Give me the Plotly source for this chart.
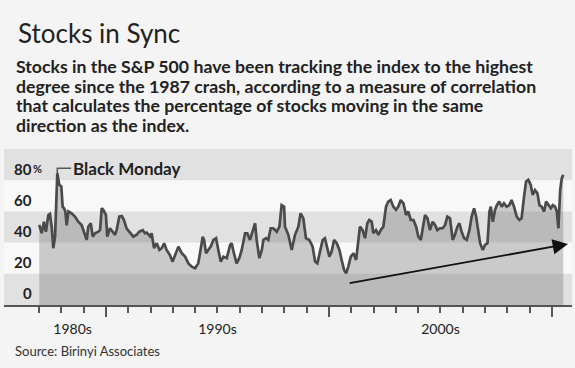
import plotly.graph_objects as go

# ---------------- data ----------------
years = [1987.01, 1987.12, 1987.22, 1987.31, 1987.42, 1987.49, 1987.57, 1987.64, 1987.72, 1987.76,
         1987.82, 1987.91, 1988.00, 1988.06, 1988.12, 1988.18, 1988.24, 1988.32, 1988.46, 1988.61,
         1988.76, 1988.91, 1989.06, 1989.14, 1989.21, 1989.32, 1989.41, 1989.51, 1989.66, 1989.74,
         1989.81, 1989.88, 1990.00, 1990.06, 1990.18, 1990.30, 1990.41, 1990.48, 1990.60, 1990.71,
         1990.81, 1990.93, 1991.08, 1991.23, 1991.38, 1991.50, 1991.65, 1991.75, 1991.83, 1991.98,
         1992.05, 1992.16, 1992.28, 1992.40, 1992.50, 1992.61, 1992.72, 1992.87, 1992.99, 1993.10,
         1993.25, 1993.40, 1993.55, 1993.70, 1993.85, 1994.00, 1994.14, 1994.22, 1994.34, 1994.40,
         1994.49, 1994.59, 1994.70, 1994.82, 1994.94, 1995.04, 1995.15, 1995.27, 1995.42, 1995.57,
         1995.64, 1995.74, 1995.86, 1995.98, 1996.09, 1996.24, 1996.34, 1996.46, 1996.58, 1996.69,
         1996.76, 1996.88, 1996.99, 1997.06, 1997.18, 1997.28, 1997.39, 1997.51, 1997.66, 1997.78,
         1997.88, 1997.99,
         1998.03, 1998.18, 1998.33, 1998.48, 1998.63, 1998.73, 1998.85, 1998.97, 1999.12, 1999.27,
         1999.38, 1999.48, 1999.60, 1999.72, 1999.82, 1999.90, 2000.02, 2000.12, 2000.23, 2000.35,
         2000.47, 2000.57, 2000.68, 2000.77, 2000.87, 2000.98, 2001.10, 2001.22, 2001.32, 2001.39,
         2001.51, 2001.62, 2001.72, 2001.81, 2001.92, 2001.99, 2002.11, 2002.22, 2002.32, 2002.44,
         2002.56, 2002.66, 2002.77, 2002.89, 2003.01, 2003.11, 2003.22, 2003.34, 2003.46, 2003.56,
         2003.67, 2003.79, 2003.91, 2004.01, 2004.12, 2004.21, 2004.31, 2004.42, 2004.53, 2004.65,
         2004.76, 2004.86, 2004.98, 2005.10, 2005.21, 2005.31, 2005.43, 2005.55, 2005.65, 2005.76,
         2005.85, 2005.95, 2006.06, 2006.18, 2006.30, 2006.40, 2006.51, 2006.60, 2006.70, 2006.78,
         2006.90, 2007.00, 2007.11, 2007.20, 2007.26, 2007.35, 2007.45, 2007.53, 2007.64, 2007.75,
         2007.85, 2007.97, 2008.09, 2008.19, 2008.30, 2008.42, 2008.54, 2008.64, 2008.75, 2008.84,
         2008.94, 2009.05, 2009.14, 2009.24, 2009.35, 2009.44, 2009.54, 2009.65, 2009.74, 2009.84,
         2009.95, 2010.04, 2010.14, 2010.22, 2010.29, 2010.37, 2010.44, 2010.51]

correlation = [41.3, 36.0, 43.4, 37.0, 47.7, 48.4, 40.0, 26.4, 33.8, 53.0,
               74.4, 67.0, 66.0, 53.0, 52.0, 50.0, 41.0, 50.0, 48.8, 46.7,
               43.4, 41.3, 34.9, 31.7, 40.2, 42.4, 33.8, 36.0, 37.0, 38.1,
               52.0, 51.0, 47.7, 33.8, 39.2, 37.0, 35.0, 38.0, 46.7, 47.0,
               44.5, 39.0, 36.0, 33.8, 35.0, 37.0, 38.0, 36.0, 36.4, 34.0,
               36.0, 26.4, 29.6, 25.3, 26.4, 29.6, 25.3, 22.0, 17.8, 22.0,
               27.4, 23.2, 21.0, 16.7, 14.6, 13.5, 16.7, 23.2, 33.8, 31.7,
               23.2, 25.3, 27.4, 31.7, 32.8, 25.3, 17.8, 21.0, 20.0, 28.5,
               29.6, 23.2, 16.7, 20.0, 25.3, 36.0, 36.0, 31.7, 38.0, 42.4,
               31.7, 20.0, 25.3, 31.7, 32.8, 31.7, 39.2, 39.2, 37.0, 40.2,
               54.0, 53.0,
               40.2, 35.0, 25.3, 35.0, 40.2, 48.8, 45.6, 32.8, 31.7, 27.4,
               17.8, 16.7, 24.2, 31.7, 32.8, 27.4, 21.0, 24.2, 31.7, 29.6,
               25.3, 18.9, 12.5, 10.3, 14.6, 21.0, 23.2, 18.9, 33.8, 40.2,
               38.0, 32.8, 42.4, 44.5, 43.4, 36.0, 38.0, 35.0, 38.0, 40.2,
               53.0, 56.3, 57.3, 53.0, 51.0, 53.0, 57.3, 55.2, 47.7, 49.9,
               44.5, 44.5, 40.2, 33.8, 31.7, 39.2, 47.7, 45.6, 38.0, 43.4,
               41.3, 38.0, 39.2, 39.2, 41.3, 46.7, 45.6, 31.7, 35.0, 40.2,
               42.4, 37.0, 32.8, 31.7, 38.0, 46.7, 52.0, 46.7, 38.0, 29.6,
               25.3, 28.5, 29.6, 49.9, 53.0, 43.4, 51.0, 54.0, 56.3, 53.0,
               55.2, 53.0, 54.0, 57.3, 53.0, 46.7, 44.5, 45.6, 59.5, 69.1,
               70.2, 67.0, 60.5, 63.7, 61.6, 54.0, 53.0, 49.9, 56.3, 54.0,
               52.0, 54.0, 53.0, 49.9, 39.2, 63.7, 71.2, 73.4]

ytick_vals = [0, 20, 40, 60, 80]
ytick_text = ["0", "20", "40", "60", "80"]
dark_band_centers = [0, 40, 80]
band_half = 10
minor_ticks = list(range(1987, 2011))
decade_ticks = [1990, 2000, 2010]
decade_names = ["1980s", "1990s", "2000s"]
decade_starts = [1980, 1990, 2000]
trend_start = (2000.86, 3.8)
trend_end = (2010.72, 29.1)

title = "Stocks in Sync"
subtitle_lines = ["Stocks in the S&P 500 have been tracking the index to the highest",
                  "degree since the 1987 crash, according to a measure of correlation",
                  "that calculates the percentage of stocks moving in the same",
                  "direction as the index."]
source = "Source: Birinyi Associates"
event_label = "Black Monday"

# ---------------- layout geometry ----------------
W, H = 575, 368
ML, MR, MT, MB = 4, 3, 149, 63
XR = [1985.43, 2010.9]
YR = [-10, 90]
FONT = "Lato"
DARK = "#222222"


def px_x(px):
    return (px - ML) / (W - ML - MR)


def px_y(py):
    return (H - MB - py) / (H - MT - MB)


fig = go.Figure()

# baseline for the area fill (axis bottom)
fig.add_trace(go.Scatter(x=years, y=[YR[0]] * len(years), mode="lines",
                         line=dict(width=0), hoverinfo="skip", showlegend=False))
fig.add_trace(go.Scatter(x=years, y=correlation, mode="lines", fill="tonexty",
                         fillcolor="rgba(105,105,105,0.32)",
                         line=dict(color="#4a4a4a", width=2.7),
                         showlegend=False))
# invisible trace on overlay axis carrying the decade ticks
fig.add_trace(go.Scatter(x=[XR[0]], y=[YR[0]], xaxis="x2", mode="markers",
                         marker=dict(opacity=0), hoverinfo="skip", showlegend=False))

shapes = []
for c in dark_band_centers:
    shapes.append(dict(type="rect", xref="paper", x0=0, x1=1, yref="y",
                       y0=c - band_half, y1=c + band_half,
                       fillcolor="#e1e1e1", line=dict(width=0), layer="below"))

# Black Monday connector
peak_val = max(correlation[:20])
i_peak = correlation.index(peak_val)
px_peak = years[i_peak]
conn_y = peak_val + 3.2
shapes.append(dict(type="path", xref="x", yref="y",
                   path=f"M {px_peak},{peak_val} L {px_peak},{conn_y} L {px_peak + 0.62},{conn_y}",
                   line=dict(color="#555555", width=1.5)))

annotations = []
# y tick labels
for v, t in zip(ytick_vals, ytick_text):
    annotations.append(dict(x=px_x(33), y=v, xref="paper", yref="y", text=t,
                            showarrow=False, xanchor="right", yanchor="middle", yshift=-4,
                            borderpad=0,
                            font=dict(family=FONT, size=15, color=DARK, weight=700)))
annotations.append(dict(x=px_x(32), y=ytick_vals[-1], xref="paper", yref="y", text="%",
                        showarrow=False, xanchor="left", yanchor="middle", yshift=-4,
                        borderpad=0, font=dict(family=FONT, size=11, color=DARK, weight=700)))

# event label
annotations.append(dict(x=px_peak + 0.66, y=conn_y, xref="x", yref="y", text=event_label,
                        showarrow=False, xanchor="left", yanchor="middle", borderpad=0,
                        font=dict(family=FONT, size=17, color=DARK, weight=700)))

# trend arrow
annotations.append(dict(x=trend_end[0], y=trend_end[1], ax=trend_start[0], ay=trend_start[1],
                        xref="x", yref="y", axref="x", ayref="y", text="",
                        showarrow=True, arrowhead=2, arrowsize=1.7, arrowwidth=1.8,
                        arrowcolor="#111111", standoff=0))

# title, subtitle, source
annotations.append(dict(x=px_x(17), y=px_y(33), xref="paper", yref="paper", text=title,
                        showarrow=False, xanchor="left", yanchor="middle", borderpad=0,
                        font=dict(family=FONT, size=26, color=DARK)))
for k, line in enumerate(subtitle_lines):
    annotations.append(dict(x=px_x(15), y=px_y(66.5 + 19.7 * k), xref="paper", yref="paper",
                            text=line, showarrow=False, xanchor="left", yanchor="middle",
                            borderpad=0,
                            font=dict(family=FONT, size=17.7, color=DARK, weight=700)))
annotations.append(dict(x=px_x(14), y=px_y(351), xref="paper", yref="paper", text=source,
                        showarrow=False, xanchor="left", yanchor="middle", borderpad=0,
                        font=dict(family=FONT, size=13, color="#333333")))

# decade label positions: centre of the visible data span of each decade
decade_pos = [(max(s, years[0]) + min(s + 10, years[-1])) / 2 for s in decade_starts]

fig.update_layout(
    width=W, height=H,
    margin=dict(l=ML, r=MR, t=MT, b=MB, autoexpand=False),
    paper_bgcolor="#f4f4f4",
    plot_bgcolor="#f8f8f8",
    shapes=shapes,
    annotations=annotations,
    xaxis=dict(range=XR, showgrid=False, zeroline=False,
               showline=True, linecolor="#555555", linewidth=2,
               tickvals=decade_pos, ticktext=decade_names,
               ticks="outside", ticklen=10, tickcolor="rgba(0,0,0,0)",
               tickfont=dict(family=FONT, size=14, color=DARK),
               minor=dict(tickvals=minor_ticks, ticks="outside", ticklen=6,
                          tickcolor="#555555", tickwidth=1.5)),
    xaxis2=dict(range=XR, overlaying="x", anchor="y", side="bottom",
                showgrid=False, zeroline=False, showline=False,
                tickvals=decade_ticks, ticks="outside", ticklen=11,
                tickcolor="#555555", tickwidth=1.5, showticklabels=False),
    yaxis=dict(range=YR, showgrid=False, zeroline=False, showticklabels=False,
               ticks=""),
)

fig.write_html("out.html", config={"displayModeBar": False},
               post_script="document.body.style.margin='0';document.body.style.overflow='hidden';")
